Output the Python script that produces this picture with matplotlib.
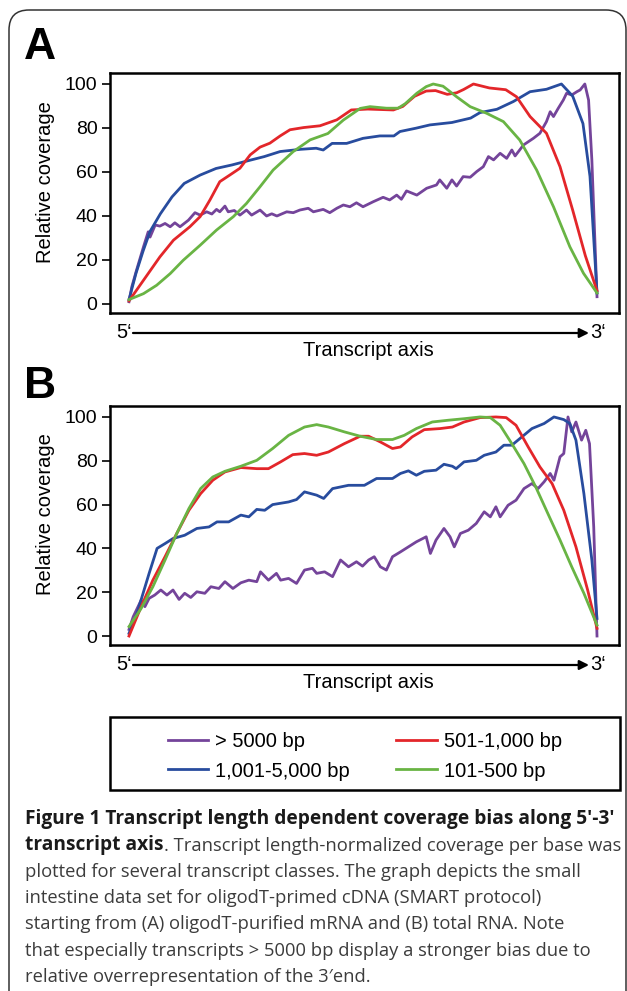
import matplotlib
matplotlib.use("Agg")
import matplotlib.pyplot as plt
from matplotlib.patches import FancyBboxPatch, Rectangle

plt.rcParams['font.family'] = ['Liberation Sans', 'DejaVu Sans']

# x = position along transcript (% from 5' to 3'), y = relative coverage
# ---- panel A: oligodT-purified mRNA
a_purple_x = [0, 0.6, 1.6, 3.1, 4.1, 4.5, 5.6, 6.6, 7.7, 8.8, 9.8, 10.9, 12.7, 14.1, 15.2, 16.6, 17.7, 18.7, 19.4, 20.5,
              21.2, 22.5, 23.7, 25.1, 26.2, 28, 29.4, 30.5, 31.6, 32.7, 33.7, 35.1, 36.5, 38.3, 39.4, 41.5, 42.9, 44.4, 45.8, 47.2,
              48.6, 50, 52.2, 54.3, 55.7, 57.2, 58.2, 59.3, 61.5, 63.6, 65.7, 66.4, 67.9, 69, 70, 71.4, 72.9, 74.3, 75.7, 76.8,
              77.9, 79.3, 80.7, 81.8, 82.5, 84.3, 86.4, 87.8, 89.2, 90, 90.7, 91.7, 92.8, 93.5, 94.6, 95.7, 96.4, 97.4, 98.2, 98.9, 100]
a_purple_y = [1, 7.8, 15.3, 26, 32.8, 30.4, 35.9, 35.4, 36.6, 35.1, 36.9, 35.1, 38.1, 41.5, 40.4, 41.9, 40.9, 43, 41.9, 44.5,
              41.9, 42.5, 40.4, 42.7, 40.4, 42.7, 40, 41, 40, 41, 41.9, 41.5, 42.7, 43.5, 41.9, 43, 41.5, 43.5, 45, 44.2,
              46, 44.2, 46.5, 48.5, 47.3, 49.5, 47.6, 51.4, 49.5, 52.6, 54.1, 56.4, 52.6, 56.4, 53.6, 57.9, 57.6, 60.2, 62.4, 67,
              65.5, 68.5, 66.2, 70, 67.3, 72.3, 75.3, 77.6, 82.9, 87.4, 85.2, 88.9, 92.7, 95.8, 95, 96.5, 97.3, 100, 92.7, 65.5, 3.3]

a_blue_x = [0, 1.5, 3, 4.5, 6.7, 9.2, 11.8, 15.2, 18.6, 22, 25.4, 28.9, 32.3, 36.6, 40, 41.5, 43.4, 46.5, 50, 53.6,
            56.6, 57.9, 61.3, 64.3, 69, 73, 75, 78.6, 82.1, 85.7, 89.2, 92.4, 94.8, 97, 98.5, 100]
a_blue_y = [2, 14, 24, 33, 41, 48.7, 54.8, 58.6, 61.6, 63.2, 65.1, 67, 69.3, 70.3, 70.8, 70, 73, 73, 75.3, 76.4,
            76.4, 78.4, 79.9, 81.4, 82.5, 84.5, 87, 88.5, 92, 96.5, 97.6, 100, 94.5, 82, 58, 5]

a_red_x = [0, 3.1, 6.6, 9.5, 13, 15.2, 17.3, 19.4, 21.6, 23.7, 25.9, 28, 30.1, 32.3, 34.4, 37.3, 40.8, 44.4, 47.5, 51,
           56.5, 58.5, 61, 63.5, 65.5, 68, 70, 71.5, 73.6, 77, 80.5, 82.8, 85.7, 89.2, 92.1, 94.8, 97.5, 100]
a_red_y = [1.4, 10.8, 21.4, 29, 35.1, 39.7, 47.3, 55.6, 58.7, 61.7, 67.8, 71.3, 73.1, 76.4, 79.2, 80.2, 81, 83.7, 88.2, 88.6,
           88.2, 89.8, 94.4, 96.8, 97, 95.3, 96, 97.5, 100, 98.2, 97.4, 94.2, 85.2, 77.6, 62.4, 42.7, 22, 6]

a_green_x = [0, 3.1, 5.9, 8.8, 11.6, 15.2, 18.7, 22.3, 25.1, 28, 30.8, 35.1, 38.7, 42.5, 45.8, 49.4, 51.5, 55, 57.5, 59,
             61.5, 63.5, 65, 67.1, 70, 72.9, 76.4, 80, 83.5, 87.1, 90.7, 94.2, 97.1, 100]
a_green_y = [2, 4.7, 8.5, 13.8, 19.9, 26.7, 33.6, 39.7, 45.7, 53.3, 60.9, 69.3, 74.6, 77.5, 83.6, 88.9, 89.7, 89, 89, 91,
             95.8, 98.8, 100, 99, 94.2, 89.7, 86.7, 82.9, 74.5, 60.9, 44.2, 26, 14, 5]

# ---- panel B: total RNA
b_purple_x = [0, 0.9, 2.6, 3.4, 4.3, 5.5, 6.8, 8.1, 9.4, 10.7, 11.9, 13.2, 14.5, 16.2, 17.5, 19.2, 20.5, 22.2, 23.9, 25.6,
              27.3, 28.1, 29.8, 31.5, 32.4, 34.1, 35.8, 37.5, 39.2, 40.1, 41.8, 43.5, 45.2, 46.9, 48.6, 49.9, 51.2, 52.4, 53.7, 55,
              56.3, 58, 59.7, 61.4, 63.5, 64.4, 65.6, 67.3, 68.6, 69.5, 70.8, 72.5, 74.2, 75.9, 77.2, 78.4, 79.3, 81, 82.7, 84.4,
              86.1, 87.4, 88.7, 90, 90.8, 92.1, 92.9, 93.8, 94.6, 95.5, 96.7, 97.6, 98.4, 99.3, 100]
b_purple_y = [3, 8.8, 16.4, 13.4, 17.2, 18.7, 21, 18.7, 21, 16.7, 19.5, 17.6, 20.2, 19.5, 22.5, 21.7, 24.8, 21.7, 24.3, 25.5,
              24.8, 29.3, 25.5, 28.6, 25.5, 26.3, 24, 30.1, 30.9, 28.6, 29.3, 27.1, 34.7, 31.6, 33.9, 31.9, 34.7, 36.2, 31.6, 30.1,
              36.2, 38.4, 40.7, 43, 45.3, 37.7, 43.8, 49.1, 45.3, 40.7, 46.8, 48.3, 51.4, 56.7, 54.4, 59, 54.4, 59.7, 62, 67.3,
              69.6, 67.3, 70.4, 74.2, 71.1, 81.8, 83.3, 100, 93.2, 97.7, 89.4, 93.9, 87.8, 49.8, 0]

b_blue_x = [0, 1.7, 4.3, 6, 7.7, 9.4, 11.9, 14.5, 17.1, 18.8, 21.3, 23.9, 25.6, 27.3, 29, 30.7, 34.1, 35.8, 37.5, 40.1,
            41.6, 43.5, 46.9, 50.3, 52.9, 56.3, 58, 59.7, 61.4, 63.1, 65.6, 67.3, 69.1, 69.9, 71.6, 74.2, 75.9, 78.4, 80.1, 81.8,
            83.5, 86.1, 88.7, 90.8, 92.9, 94.2, 95.5, 97.2, 98.9, 100]
b_blue_y = [1.2, 10.3, 28.6, 40, 42.2, 44.5, 46, 49.1, 49.8, 52.1, 52.1, 55.2, 54.4, 57.8, 57.4, 60, 61.2, 62.3, 65.8, 64.3,
            62.8, 67.3, 68.8, 68.8, 71.9, 71.9, 74.2, 75.4, 73.4, 75.2, 75.7, 78.4, 77.5, 76.4, 79.5, 80.2, 82.5, 84, 87.1, 87.1,
            90.1, 94.7, 97, 100, 98.8, 97, 89.4, 65, 34.7, 8]

b_red_x = [0, 2.6, 5.1, 7.7, 10.2, 12.8, 15.3, 17.9, 20.5, 23.9, 27.3, 29.8, 32.4, 35, 37.5, 40.1, 42.6, 46, 49.4, 51.2,
           53.7, 56.3, 58, 60.5, 63.1, 66.5, 69.1, 71.6, 75, 78.4, 80.6, 82.7, 85.3, 87.8, 90.4, 92.9, 95.5, 98, 100]
b_red_y = [0, 13.4, 25.5, 36.2, 46.8, 57.4, 65, 71.1, 74.9, 76.9, 76.4, 76.4, 79.5, 82.8, 83.3, 82.5, 84, 87.8, 91.2, 91.2,
           88.6, 85.6, 86.3, 90.9, 94.2, 94.7, 95.4, 97.7, 99.7, 100, 99.7, 96.2, 86.3, 77.2, 69.6, 57.4, 40.7, 21, 3.5]

b_green_x = [0, 2.6, 5.1, 7.7, 10.2, 12.8, 15.3, 17.9, 20.5, 23.9, 27.3, 30.7, 34.1, 37.5, 40.1, 42.6, 46, 49.4, 52.9, 56.3,
             58.8, 61.4, 64.8, 68.2, 71.6, 75, 77.2, 79.3, 81.8, 84.4, 86.9, 89.5, 92.1, 94.6, 97.2, 100]
b_green_y = [4.3, 12.6, 22.5, 34.7, 46.8, 58.2, 67.3, 72.6, 75.2, 77.5, 80.2, 85.6, 91.6, 95.4, 96.5, 95.4, 93.2, 91.2, 89.7, 89.7,
             91.6, 94.7, 97.7, 98.5, 99.2, 100, 99.7, 96.2, 87.8, 78.7, 68.1, 55.9, 43.8, 31.6, 19.5, 5]

labels = ['> 5000 bp', '1,001-5,000 bp', '501-1,000 bp', '101-500 bp']
colors = ['#74449a', '#284c9e', '#e3262a', '#69b444']
yticks = [0, 20, 40, 60, 80, 100]

caption = [
    'plotted for several transcript classes. The graph depicts the small',
    'intestine data set for oligodT-primed cDNA (SMART protocol)',
    'starting from (A) oligodT-purified mRNA and (B) total RNA. Note',
    'that especially transcripts > 5000 bp display a stronger bias due to',
    'relative overrepresentation of the 3\u2032end.',
]

W, H = 627, 991
fig = plt.figure(figsize=(W / 100, H / 100), dpi=100)

# overlay in pixel coordinates for the frame, letters, arrows and caption
bg = fig.add_axes([0, 0, 1, 1])
bg.set_xlim(0, W)
bg.set_ylim(H, 0)
bg.axis('off')
bg.add_patch(FancyBboxPatch((9, 10), 617, 1100, boxstyle='round,pad=0,rounding_size=20',
                            fill=False, ec='#333333', lw=1.1))


def panel(top, bottom, series, letter, letter_top, arrow_y):
    ax = fig.add_axes([110 / W, 1 - bottom / H, 509 / W, (bottom - top) / H])
    lines = []
    for (xs, ys), c, lab in zip(series, colors, labels):
        ln, = ax.plot(xs, ys, color=c, lw=2.0, label=lab, solid_joinstyle='round')
        lines.append(ln)
    ax.set_xlim(-4.06, 104.7)
    ax.set_ylim(-4.1, 105)
    ax.set_xticks([])
    ax.set_yticks(yticks)
    ax.tick_params(axis='y', length=6, width=1.2, pad=3, labelsize=14)
    for s in ax.spines.values():
        s.set_linewidth(1.8)
    ax.set_ylabel('Relative coverage', fontsize=14.5)
    ax.yaxis.set_label_coords(-0.108, 0.546)

    bg.text(24, letter_top, letter, fontsize=32, fontweight='bold', va='top', ha='left')
    bg.annotate('', xy=(589, arrow_y), xytext=(133, arrow_y),
                arrowprops=dict(arrowstyle='-|>', lw=1.6, color='black', mutation_scale=14,
                                shrinkA=0, shrinkB=0))
    bg.text(132, arrow_y, '5\u2018', fontsize=14.5, ha='right', va='center')
    bg.text(590, arrow_y, '3\u2018', fontsize=14.5, ha='left', va='center')
    bg.text(368, arrow_y + 17, 'Transcript axis', fontsize=14.5, ha='center', va='center')
    return lines


panel(73, 313, [(a_purple_x, a_purple_y), (a_blue_x, a_blue_y), (a_red_x, a_red_y), (a_green_x, a_green_y)],
      'A', 27, 333)
handles = panel(406, 645, [(b_purple_x, b_purple_y), (b_blue_x, b_blue_y), (b_red_x, b_red_y), (b_green_x, b_green_y)],
                'B', 366, 665)

# legend
bg.add_patch(Rectangle((110, 717), 510, 73, fill=False, ec='black', lw=1.8))
fig.legend(handles=handles, ncol=2, loc='center', bbox_to_anchor=(365 / W, 1 - 756.5 / H),
           frameon=False, fontsize=14.5, handlelength=2.0, handletextpad=0.35,
           columnspacing=2.3, labelspacing=0.5)

# caption
reg_font = dict(family=['Open Sans', 'DejaVu Sans'], fontsize=13.2, color='#3c3c3c')
bold_font = dict(family=['Open Sans', 'DejaVu Sans'], fontsize=13.75, fontweight='bold', color='#1a1a1a')
bg.text(25, 824, 'Figure 1 Transcript length dependent coverage bias along 5\u2032-3\u2032',
        va='baseline', **bold_font)
t2 = bg.text(25, 850.3, 'transcript axis', va='baseline', **bold_font)
bg.annotate('. Transcript length-normalized coverage per base was', xy=(1, 0), xycoords=t2,
            va='bottom', ha='left', **reg_font)
for i, line in enumerate(caption):
    bg.text(25, 876.6 + i * 26.3, line, va='baseline', **reg_font)

fig.savefig('out.png', dpi=100)
